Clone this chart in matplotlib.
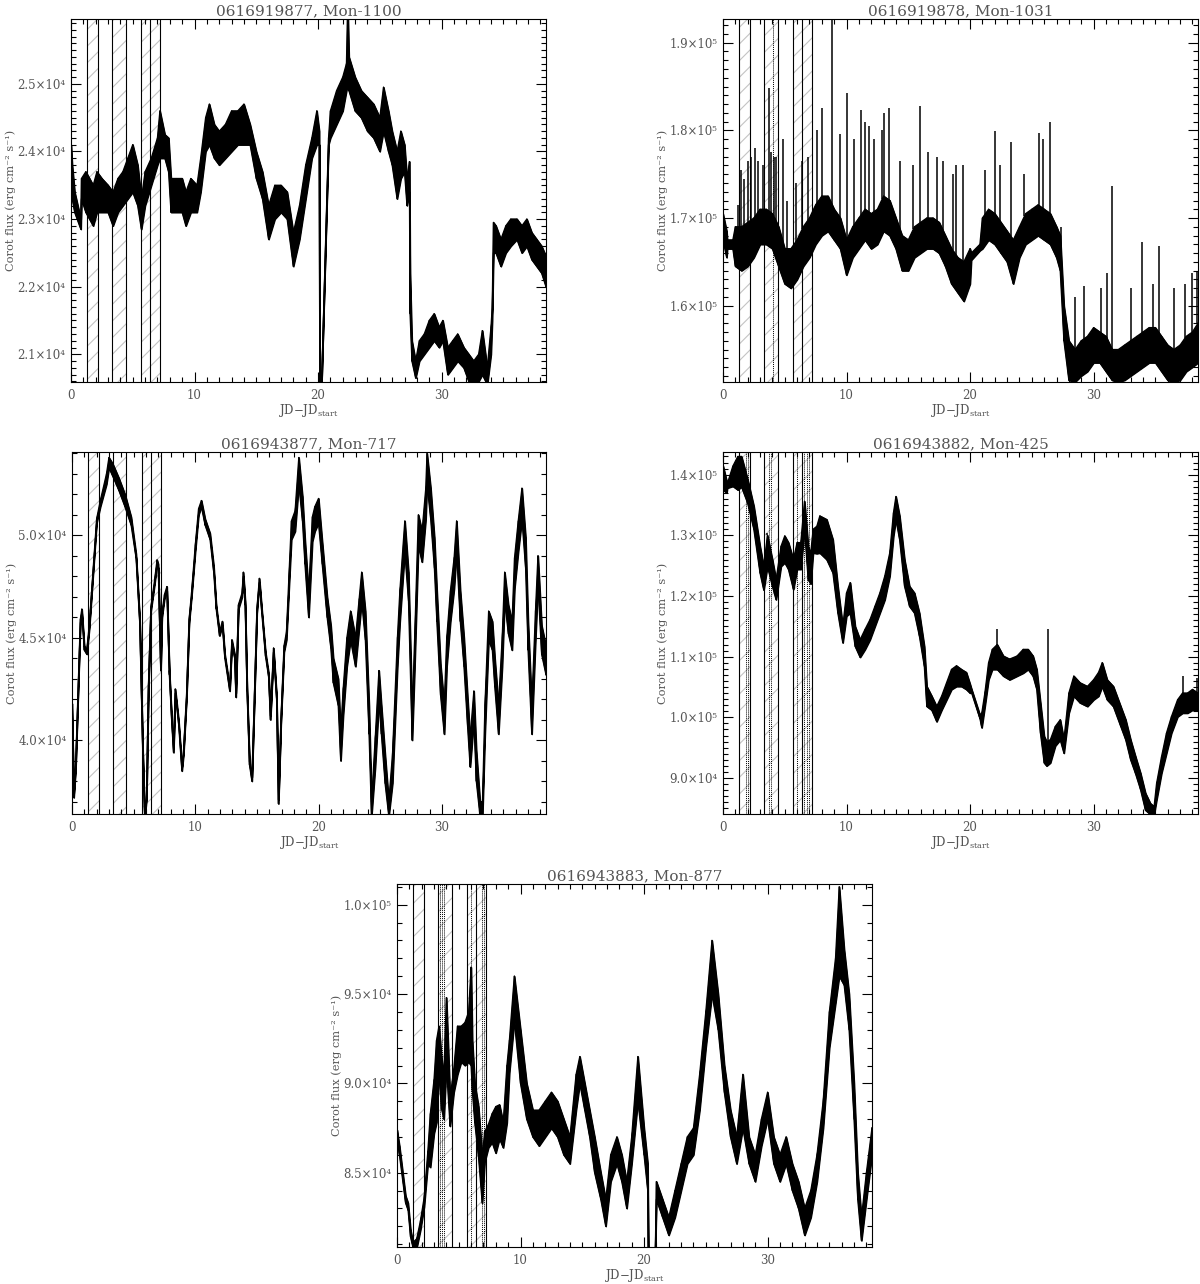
import numpy as np
import matplotlib
matplotlib.use('Agg')
import matplotlib.pyplot as plt
from matplotlib.ticker import MultipleLocator, FuncFormatter

plt.rcParams['font.family'] = ['DejaVu Serif']
plt.rcParams['mathtext.fontset'] = 'dejavuserif'
plt.rcParams['hatch.linewidth'] = 0.8

TXT = '#555555'

# ---------------- panel 1 : 0616919877, Mon-1100  (flux / 1e4)
t1 = [0.0, 0.1, 0.3, 0.8, 0.85, 1.2, 1.5, 1.8, 2.1, 2.5, 3.0, 3.4, 3.8, 4.2, 4.6, 5.0, 5.4, 5.7, 6.0, 6.5,
      7.0, 7.2, 7.6, 7.9, 8.1, 8.5, 9.0, 9.3, 9.7, 10.2, 10.5, 10.9, 11.2, 11.6, 12.0, 12.5, 13.0, 13.5,
      14.0, 14.5, 15.0, 15.5, 16.0, 16.5, 17.0, 17.5, 18.0, 18.5, 19.0, 19.5, 19.9, 20.1, 20.15, 20.2,
      20.85, 21.0, 21.5, 22.0, 22.3, 22.4, 22.5, 23.0, 23.5, 24.0, 24.5, 25.0, 25.3, 25.7, 26.0, 26.4,
      26.7, 27.0, 27.2, 27.4, 27.45, 27.6, 27.9, 28.2, 28.6, 29.0, 29.4, 29.8, 30.1, 30.5, 30.9, 31.3,
      31.8, 32.2, 32.6, 33.0, 33.3, 33.7, 34.0, 34.1, 34.2, 34.4, 34.8, 35.2, 35.6, 36.1, 36.5, 36.9,
      37.3, 37.7, 38.1, 38.45]
lo1 = [2.33, 2.33, 2.31, 2.285, 2.33, 2.31, 2.30, 2.29, 2.31, 2.31, 2.31, 2.29, 2.31, 2.32, 2.33, 2.34,
       2.32, 2.285, 2.32, 2.35, 2.38, 2.39, 2.39, 2.37, 2.31, 2.31, 2.31, 2.29, 2.31, 2.31, 2.34, 2.40,
       2.41, 2.39, 2.38, 2.39, 2.40, 2.41, 2.41, 2.41, 2.36, 2.33, 2.27, 2.30, 2.31, 2.30, 2.23, 2.27,
       2.33, 2.39, 2.41, 2.41, 2.00, 2.00, 2.41, 2.42, 2.44, 2.46, 2.49, 2.50, 2.49, 2.46, 2.45, 2.43,
       2.42, 2.40, 2.43, 2.40, 2.38, 2.33, 2.36, 2.37, 2.32, 2.34, 2.16, 2.09, 2.065, 2.09, 2.10, 2.11,
       2.12, 2.11, 2.12, 2.07, 2.08, 2.09, 2.08, 2.06, 2.055, 2.06, 2.07, 2.055, 2.10, 2.15, 2.25, 2.25,
       2.23, 2.25, 2.26, 2.27, 2.25, 2.26, 2.24, 2.23, 2.22, 2.20]
hi1 = [2.41, 2.38, 2.34, 2.30, 2.36, 2.37, 2.36, 2.35, 2.37, 2.36, 2.35, 2.34, 2.36, 2.37, 2.39, 2.41,
       2.38, 2.33, 2.37, 2.39, 2.42, 2.46, 2.425, 2.42, 2.36, 2.36, 2.36, 2.34, 2.36, 2.35, 2.39, 2.45,
       2.47, 2.44, 2.43, 2.44, 2.46, 2.46, 2.47, 2.44, 2.40, 2.37, 2.32, 2.35, 2.35, 2.34, 2.28, 2.32,
       2.38, 2.42, 2.46, 2.43, 2.00, 2.00, 2.42, 2.46, 2.49, 2.51, 2.53, 2.62, 2.54, 2.51, 2.49, 2.48,
       2.47, 2.45, 2.495, 2.46, 2.43, 2.40, 2.43, 2.41, 2.36, 2.385, 2.22, 2.12, 2.09, 2.12, 2.13, 2.15,
       2.16, 2.14, 2.15, 2.11, 2.12, 2.13, 2.11, 2.10, 2.09, 2.10, 2.135, 2.08, 2.14, 2.17, 2.295, 2.29,
       2.27, 2.29, 2.30, 2.30, 2.29, 2.30, 2.28, 2.27, 2.26, 2.245]

# ---------------- panel 2 : 0616919878, Mon-1031  (flux / 1e5)
t2 = [0.0, 0.3, 0.35, 0.8, 1.0, 1.5, 2.0, 2.5, 3.0, 3.5, 4.0, 4.5, 5.0, 5.5, 6.0, 6.5, 7.0, 7.5, 8.0, 8.5,
      9.0, 9.5, 10.0, 10.5, 11.0, 11.5, 12.0, 12.5, 13.0, 13.5, 14.0, 14.5, 15.0, 15.5, 16.0, 16.5, 17.0,
      17.5, 18.0, 18.5, 19.0, 19.5, 20.0, 20.1, 20.8, 21.0, 21.5, 22.0, 22.5, 23.0, 23.5, 24.0, 24.5,
      25.0, 25.5, 26.0, 26.5, 27.0, 27.3, 27.6, 28.0, 28.5, 29.0, 29.5, 30.0, 30.5, 31.0, 31.5, 32.0,
      32.5, 33.0, 33.5, 34.0, 34.5, 35.0, 35.5, 36.0, 36.5, 37.0, 37.5, 38.0, 38.45]
lo2 = [1.675, 1.655, 1.665, 1.665, 1.645, 1.64, 1.645, 1.655, 1.67, 1.67, 1.665, 1.645, 1.625, 1.62,
       1.63, 1.645, 1.655, 1.67, 1.68, 1.685, 1.675, 1.665, 1.635, 1.655, 1.665, 1.675, 1.665, 1.67,
       1.685, 1.68, 1.665, 1.64, 1.64, 1.655, 1.66, 1.665, 1.665, 1.66, 1.645, 1.625, 1.615, 1.605,
       1.625, 1.652, 1.663, 1.665, 1.675, 1.67, 1.66, 1.65, 1.625, 1.655, 1.67, 1.675, 1.68, 1.675,
       1.67, 1.655, 1.64, 1.56, 1.515, 1.513, 1.52, 1.525, 1.535, 1.535, 1.525, 1.515, 1.513, 1.515,
       1.52, 1.525, 1.53, 1.535, 1.535, 1.525, 1.515, 1.513, 1.515, 1.525, 1.53, 1.535]
hi2 = [1.705, 1.685, 1.675, 1.675, 1.69, 1.69, 1.695, 1.70, 1.71, 1.71, 1.705, 1.69, 1.665, 1.665,
       1.675, 1.69, 1.70, 1.715, 1.725, 1.725, 1.71, 1.70, 1.675, 1.69, 1.70, 1.71, 1.705, 1.71, 1.725,
       1.72, 1.70, 1.68, 1.675, 1.69, 1.695, 1.70, 1.70, 1.695, 1.68, 1.665, 1.655, 1.65, 1.665, 1.66,
       1.67, 1.70, 1.71, 1.705, 1.695, 1.685, 1.675, 1.69, 1.705, 1.71, 1.715, 1.71, 1.705, 1.69, 1.68,
       1.60, 1.56, 1.55, 1.56, 1.565, 1.575, 1.57, 1.565, 1.55, 1.55, 1.555, 1.56, 1.565, 1.57, 1.575,
       1.575, 1.565, 1.555, 1.55, 1.555, 1.565, 1.57, 1.58]
spk2_t = [1.2, 1.45, 1.7, 2.0, 2.3, 2.55, 2.8, 3.2, 3.73, 3.9, 4.1, 4.3, 4.85, 5.2, 5.9, 6.4, 6.9, 7.6,
          8.0, 8.84, 9.5, 10.0, 10.6, 11.2, 11.5, 11.8, 12.2, 12.9, 13.0, 13.46, 14.3, 15.4, 15.95, 16.6,
          17.3, 17.8, 18.6, 18.9, 19.4, 21.2, 22.0, 22.4, 23.3, 24.4, 25.6, 25.9, 26.5, 27.4, 28.5, 29.2,
          30.6, 31.1, 31.5, 33.0, 33.9, 34.8, 35.3, 36.5, 37.4, 38.0, 38.4]
spk2_v = [1.715, 1.755, 1.745, 1.765, 1.77, 1.78, 1.765, 1.76, 1.848, 1.775, 1.77, 1.77, 1.79, 1.72,
          1.74, 1.765, 1.77, 1.80, 1.825, 1.93, 1.796, 1.843, 1.79, 1.823, 1.81, 1.805, 1.79, 1.80, 1.82,
          1.825, 1.765, 1.76, 1.828, 1.775, 1.77, 1.765, 1.75, 1.76, 1.76, 1.755, 1.799, 1.76, 1.787,
          1.75, 1.797, 1.79, 1.809, 1.69, 1.61, 1.622, 1.62, 1.637, 1.736, 1.62, 1.673, 1.625, 1.668,
          1.62, 1.625, 1.637, 1.64]

# ---------------- panel 3 : 0616943877, Mon-717  (flux / 1e4)
t3 = [0.0, 0.15, 0.3, 0.68, 0.8, 1.0, 1.2, 1.4, 2.0, 2.3, 2.8, 3.0, 3.3, 3.8, 4.3, 4.8, 5.2, 5.5, 5.75,
      5.9, 6.05, 6.2, 6.4, 6.7, 6.9, 7.0, 7.2, 7.3, 7.5, 7.7, 7.9, 8.1, 8.24, 8.38, 8.65, 8.92, 9.05,
      9.3, 9.5, 9.7, 10.0, 10.27, 10.5, 10.8, 11.2, 11.5, 11.7, 11.97, 12.2, 12.4, 12.8, 12.97, 13.2,
      13.3, 13.5, 13.8, 13.9, 14.05, 14.2, 14.4, 14.6, 14.8, 15.0, 15.2, 15.4, 15.7, 15.95, 16.1, 16.35,
      16.6, 16.75, 16.95, 17.2, 17.4, 17.6, 17.8, 18.1, 18.4, 18.7, 18.9, 19.2, 19.5, 19.7, 20.0, 20.3,
      20.7, 21.0, 21.2, 21.6, 21.8, 22.0, 22.3, 22.6, 23.0, 23.3, 23.5, 23.8, 24.1, 24.3, 24.6, 24.9,
      25.1, 25.4, 25.7, 26.0, 26.4, 26.6, 26.9, 27.0, 27.3, 27.6, 27.8, 28.1, 28.4, 28.7, 28.8, 29.1,
      29.4, 29.6, 29.9, 30.2, 30.4, 30.7, 31.0, 31.2, 31.5, 31.8, 32.1, 32.3, 32.6, 32.8, 33.1, 33.3,
      33.5, 33.8, 34.1, 34.3, 34.6, 34.9, 35.1, 35.4, 35.7, 35.9, 36.2, 36.5, 36.8, 37.0, 37.3, 37.6,
      37.8, 38.1, 38.45]
lo3 = [4.16, 3.72, 3.86, 4.57, 4.62, 4.44, 4.42, 4.54, 5.06, 5.14, 5.25, 5.33, 5.29, 5.22, 5.14, 5.05,
       4.89, 4.57, 3.92, 3.62, 3.71, 4.24, 4.63, 4.76, 4.86, 4.84, 4.34, 4.60, 4.69, 4.73, 4.32, 4.08,
       3.94, 4.23, 4.08, 3.85, 3.93, 4.21, 4.57, 4.70, 4.92, 5.10, 5.14, 5.05, 4.98, 4.82, 4.64, 4.51,
       4.56, 4.40, 4.24, 4.47, 4.40, 4.21, 4.64, 4.70, 4.80, 4.66, 4.24, 3.88, 3.80, 4.20, 4.62, 4.77,
       4.62, 4.41, 4.31, 4.10, 4.43, 4.20, 3.69, 4.08, 4.43, 4.49, 4.74, 4.98, 5.02, 5.25, 5.07, 4.86,
       4.60, 4.97, 5.02, 5.06, 4.86, 4.60, 4.45, 4.28, 4.17, 3.90, 4.12, 4.36, 4.49, 4.36, 4.55, 4.68,
       4.49, 4.03, 3.63, 3.87, 4.19, 4.03, 3.79, 3.63, 3.79, 4.36, 4.58, 4.84, 4.92, 4.68, 4.00, 4.36,
       4.95, 4.87, 5.08, 5.25, 5.08, 4.84, 4.58, 4.22, 4.03, 4.36, 4.58, 4.74, 4.92, 4.58, 4.36, 4.06,
       3.87, 4.10, 3.80, 3.63, 3.63, 4.03, 4.49, 4.44, 4.26, 4.03, 4.36, 4.68, 4.52, 4.44, 4.74, 4.92,
       5.08, 4.84, 4.44, 4.03, 4.49, 4.76, 4.42, 4.32]
hi3 = [4.18, 3.74, 3.88, 4.59, 4.64, 4.46, 4.44, 4.56, 5.08, 5.17, 5.30, 5.38, 5.35, 5.28, 5.20, 5.09,
       4.91, 4.59, 3.94, 3.64, 3.73, 4.26, 4.65, 4.78, 4.88, 4.86, 4.36, 4.62, 4.71, 4.75, 4.34, 4.10,
       3.96, 4.25, 4.10, 3.87, 3.95, 4.23, 4.59, 4.72, 4.95, 5.13, 5.17, 5.08, 5.01, 4.85, 4.66, 4.53,
       4.58, 4.42, 4.26, 4.49, 4.42, 4.23, 4.66, 4.72, 4.82, 4.68, 4.26, 3.90, 3.82, 4.22, 4.64, 4.79,
       4.64, 4.43, 4.33, 4.12, 4.45, 4.22, 3.71, 4.10, 4.46, 4.53, 4.80, 5.07, 5.12, 5.38, 5.19, 4.98,
       4.72, 5.09, 5.14, 5.18, 4.97, 4.70, 4.56, 4.40, 4.30, 4.04, 4.25, 4.50, 4.63, 4.50, 4.69, 4.82,
       4.63, 4.17, 3.70, 4.01, 4.34, 4.17, 3.93, 3.70, 3.93, 4.50, 4.73, 4.99, 5.07, 4.82, 4.14, 4.50,
       5.10, 5.02, 5.23, 5.40, 5.23, 4.99, 4.73, 4.37, 4.17, 4.50, 4.73, 4.89, 5.07, 4.73, 4.50, 4.20,
       4.01, 4.24, 3.95, 3.70, 3.70, 4.17, 4.63, 4.58, 4.40, 4.17, 4.50, 4.82, 4.66, 4.58, 4.89, 5.07,
       5.23, 4.99, 4.58, 4.17, 4.63, 4.90, 4.56, 4.46]

# ---------------- panel 4 : 0616943882, Mon-425  (flux / 1e5)
t4 = [0.0, 0.3, 0.35, 0.8, 1.2, 1.5, 2.0, 2.5, 3.0, 3.3, 3.6, 4.0, 4.3, 4.7, 5.0, 5.3, 5.7, 6.0, 6.3,
      6.6, 6.9, 7.1, 7.3, 7.6, 7.84, 8.4, 8.9, 9.3, 9.7, 10.0, 10.3, 10.7, 11.1, 11.5, 11.9, 12.3,
      12.7, 13.1, 13.5, 13.8, 14.0, 14.3, 14.7, 15.1, 15.5, 15.9, 16.3, 16.5, 16.9, 17.3, 17.7, 18.1,
      18.5, 18.9, 19.3, 19.7, 20.0, 20.1, 20.8, 20.95, 21.2, 21.5, 21.8, 22.2, 22.7, 23.2, 23.8, 24.3,
      24.7, 25.1, 25.4, 25.7, 26.0, 26.2, 26.5, 26.9, 27.3, 27.6, 28.0, 28.4, 28.9, 29.5, 30.0, 30.4,
      30.7, 31.1, 31.6, 32.2, 32.6, 33.0, 33.4, 33.8, 34.2, 34.6, 34.9, 35.1, 35.5, 35.9, 36.3, 36.8,
      37.2, 37.6, 38.0, 38.45]
lo4 = [1.375, 1.37, 1.378, 1.381, 1.375, 1.38, 1.353, 1.31, 1.238, 1.21, 1.249, 1.216, 1.194, 1.249,
       1.255, 1.244, 1.211, 1.244, 1.244, 1.31, 1.227, 1.22, 1.271, 1.27, 1.271, 1.26, 1.238, 1.172,
       1.123, 1.167, 1.172, 1.117, 1.099, 1.112, 1.128, 1.15, 1.172, 1.194, 1.233, 1.299, 1.326, 1.293,
       1.216, 1.183, 1.172, 1.134, 1.084, 1.018, 1.012, 0.993, 1.012, 1.029, 1.046, 1.051, 1.051, 1.046,
       1.04, 1.042, 0.998, 0.983, 1.018, 1.062, 1.079, 1.079, 1.068, 1.062, 1.068, 1.073, 1.079, 1.068,
       1.046, 0.974, 0.925, 0.92, 0.925, 0.953, 0.963, 0.941, 1.007, 1.035, 1.024, 1.018, 1.029, 1.035,
       1.051, 1.029, 1.018, 0.985, 0.963, 0.93, 0.907, 0.881, 0.847, 0.840, 0.840, 0.864, 0.908, 0.941,
       0.974, 1.001, 1.007, 1.007, 1.012, 1.012]
hi4 = [1.415, 1.39, 1.385, 1.414, 1.43, 1.43, 1.392, 1.348, 1.282, 1.249, 1.30, 1.26, 1.227, 1.282,
       1.299, 1.288, 1.26, 1.288, 1.288, 1.356, 1.282, 1.27, 1.31, 1.315, 1.332, 1.326, 1.293, 1.216,
       1.15, 1.205, 1.222, 1.15, 1.128, 1.145, 1.161, 1.183, 1.205, 1.233, 1.271, 1.337, 1.364, 1.332,
       1.26, 1.216, 1.205, 1.172, 1.117, 1.051, 1.035, 1.018, 1.035, 1.057, 1.079, 1.085, 1.079, 1.074,
       1.055, 1.048, 1.004, 1.007, 1.040, 1.090, 1.112, 1.12, 1.101, 1.096, 1.101, 1.112, 1.112, 1.101,
       1.079, 1.024, 0.969, 0.96, 0.963, 0.985, 0.996, 0.963, 1.040, 1.068, 1.057, 1.051, 1.062, 1.074,
       1.09, 1.062, 1.051, 1.018, 0.996, 0.963, 0.935, 0.908, 0.875, 0.858, 0.853, 0.891, 0.935, 0.974,
       1.001, 1.029, 1.040, 1.040, 1.046, 1.040]
spk4_t = [3.6, 6.6, 22.2, 26.3, 37.2, 38.4]
spk4_v = [1.304, 1.356, 1.145, 1.145, 1.068, 1.065]

# ---------------- panel 5 : 0616943883, Mon-877  (flux / 1e4)
t5 = [0.0, 0.2, 0.7, 0.9, 1.1, 1.3, 1.6, 1.9, 2.2, 2.5, 2.7, 3.0, 3.2, 3.4, 3.6, 3.8, 4.0, 4.3, 4.6,
      4.9, 5.2, 5.5, 5.8, 6.0, 6.1, 6.3, 6.6, 6.9, 7.1, 7.4, 7.7, 8.0, 8.3, 8.6, 8.9, 9.1, 9.5, 10.0,
      10.5, 11.0, 11.5, 12.0, 12.5, 13.0, 13.5, 14.0, 14.5, 14.8, 15.2, 15.6, 16.0, 16.5, 16.9, 17.3,
      17.8, 18.2, 18.6, 19.0, 19.5, 20.0, 20.3, 20.35, 20.9, 21.0, 21.5, 22.0, 22.5, 23.0, 23.5, 24.0,
      24.5, 25.0, 25.5, 26.0, 26.5, 27.0, 27.5, 28.0, 28.5, 29.0, 29.5, 30.0, 30.5, 31.0, 31.5, 32.0,
      32.5, 33.0, 33.5, 34.0, 34.5, 35.0, 35.5, 35.8, 36.2, 36.6, 37.0, 37.3, 37.6, 38.0, 38.45]
lo5 = [8.69, 8.60, 8.33, 8.29, 8.14, 8.08, 8.08, 8.18, 8.31, 8.55, 8.53, 8.72, 8.78, 9.06, 8.86, 8.80,
       9.10, 8.76, 8.95, 9.05, 9.12, 9.10, 9.12, 9.10, 8.96, 8.78, 8.59, 8.33, 8.56, 8.64, 8.67, 8.61,
       8.69, 8.64, 8.78, 9.06, 9.35, 9.00, 8.80, 8.70, 8.65, 8.70, 8.75, 8.70, 8.60, 8.55, 8.85, 9.00,
       8.85, 8.70, 8.50, 8.35, 8.20, 8.45, 8.55, 8.45, 8.30, 8.55, 8.90, 8.60, 8.40, 8.00, 8.00, 8.35,
       8.25, 8.15, 8.25, 8.40, 8.55, 8.60, 8.85, 9.20, 9.50, 9.30, 8.95, 8.70, 8.55, 8.75, 8.55, 8.45,
       8.65, 8.80, 8.55, 8.45, 8.55, 8.40, 8.30, 8.15, 8.25, 8.45, 8.75, 9.20, 9.45, 9.60, 9.55, 9.30,
       8.80, 8.35, 8.12, 8.35, 8.60]
hi5 = [8.74, 8.65, 8.37, 8.33, 8.18, 8.11, 8.13, 8.23, 8.36, 8.62, 8.83, 9.02, 9.24, 9.32, 9.15, 9.05,
       9.48, 8.92, 9.08, 9.32, 9.32, 9.34, 9.40, 9.65, 9.24, 9.00, 8.87, 8.59, 8.73, 8.77, 8.83, 8.87,
       8.88, 8.78, 9.10, 9.24, 9.60, 9.30, 9.00, 8.85, 8.85, 8.90, 8.95, 8.90, 8.80, 8.70, 9.05, 9.15,
       9.00, 8.85, 8.70, 8.50, 8.35, 8.60, 8.70, 8.60, 8.45, 8.70, 9.15, 8.75, 8.55, 8.00, 8.00, 8.45,
       8.35, 8.25, 8.40, 8.55, 8.70, 8.75, 9.05, 9.40, 9.80, 9.50, 9.10, 8.85, 8.70, 9.05, 8.70, 8.60,
       8.80, 8.95, 8.70, 8.60, 8.70, 8.55, 8.45, 8.30, 8.40, 8.60, 8.90, 9.40, 9.70, 10.1, 9.75, 9.50,
       9.00, 8.50, 8.25, 8.50, 8.75]

# observation windows (days)
hatch_spans = [(1.3, 2.22), (3.33, 4.42), (5.68, 7.2)]
solid_lines = [1.3, 2.22, 3.33, 4.42, 5.68, 6.4, 7.2]
dotted_lines = [[], [4.05], [], [1.84, 2.03, 3.70, 3.86, 6.0, 6.57, 6.76, 6.97], [3.46, 3.65, 3.84, 6.0, 6.89, 7.05]]

titles = ['0616919877, Mon-1100', '0616919878, Mon-1031', '0616943877, Mon-717',
          '0616943882, Mon-425', '0616943883, Mon-877']

W, H = 1200, 1284
fig = plt.figure(figsize=(W / 100, H / 100), dpi=100)


def add_ax(left, right, top, bottom):
    return fig.add_axes([left / W, 1 - bottom / H, (right - left) / W, (bottom - top) / H])


sup = str.maketrans('0123456789-', '⁰¹²³⁴⁵⁶⁷⁸⁹⁻')


def fmt(v, pos):
    e = int(np.floor(np.log10(v)))
    return '%.1f×10%s' % (v / 10 ** e, str(e).translate(sup))


def draw_panel(ax, idx, t, lo, hi, scale, ylim, major, minor, spk_t=None, spk_v=None):
    t = np.array(t)
    lo = np.array(lo) * scale
    hi = np.array(hi) * scale
    for a, b in hatch_spans:
        ax.axvspan(a, b, facecolor='none', edgecolor='#c4c4c4', hatch='//', lw=0)
    for x in solid_lines:
        ax.axvline(x, color='k', lw=0.8)
    for x in dotted_lines[idx]:
        ax.axvline(x, color='k', lw=0.7, ls=(0, (1, 1)))
    ax.fill_between(t, lo, hi, color='k', lw=1.0)
    ax.plot(t, lo, color='k', lw=1.0)
    ax.plot(t, hi, color='k', lw=1.0)
    # zigzag between the band edges gives the noisy look of the light curve
    ax.plot(np.repeat(t, 2), np.column_stack([lo, hi]).ravel(), color='k', lw=0.9)
    if spk_t is not None:
        base = np.interp(spk_t, t, hi)
        ax.vlines(spk_t, base, np.array(spk_v) * scale, color='k', lw=1.1)
    ax.set_xlim(0, 38.45)
    ax.set_ylim(*ylim)
    ax.xaxis.set_major_locator(MultipleLocator(10))
    ax.xaxis.set_minor_locator(MultipleLocator(1))
    ax.yaxis.set_major_locator(MultipleLocator(major))
    ax.yaxis.set_minor_locator(MultipleLocator(minor))
    ax.yaxis.set_major_formatter(FuncFormatter(fmt))
    ax.tick_params(which='both', direction='in', top=True, right=True, colors='k',
                   labelcolor=TXT, labelsize=8.5, width=0.8)
    ax.tick_params(which='major', length=7)
    ax.tick_params(which='minor', length=3.5)
    ax.tick_params(axis='y', which='major', pad=4)
    ax.tick_params(axis='x', which='major', pad=5)
    for s in ax.spines.values():
        s.set_linewidth(0.8)
    ax.set_title(titles[idx], fontsize=11, color=TXT, pad=3)
    ax.set_xlabel(r'JD$-$JD$_{\rm start}$', fontsize=8.5, color=TXT)
    ax.set_ylabel('Corot flux (erg cm⁻² s⁻¹)', fontsize=8.2, color=TXT)
    ax.yaxis.set_label_coords(-0.116, 0.5)
    ax.xaxis.set_label_coords(0.5, -0.055)


ax1 = add_ax(71, 546, 19, 382)
draw_panel(ax1, 0, t1, lo1, hi1, 1e4, (20590, 25960), 1000, 100)
ax2 = add_ax(723, 1198, 19, 382)
draw_panel(ax2, 1, t2, lo2, hi2, 1e5, (151300, 192700), 10000, 1000, spk2_t, spk2_v)
ax3 = add_ax(72, 546, 452, 814)
draw_panel(ax3, 2, t3, lo3, hi3, 1e4, (36400, 54070), 5000, 1000)
ax4 = add_ax(723, 1198, 452, 814)
draw_panel(ax4, 3, t4, lo4, hi4, 1e5, (84070, 143740), 10000, 1000, spk4_t, spk4_v)
ax5 = add_ax(397, 872, 884, 1247)
draw_panel(ax5, 4, t5, lo5, hi5, 1e4, (80840, 101160), 5000, 1000)

fig.savefig('out.png', dpi=100)
